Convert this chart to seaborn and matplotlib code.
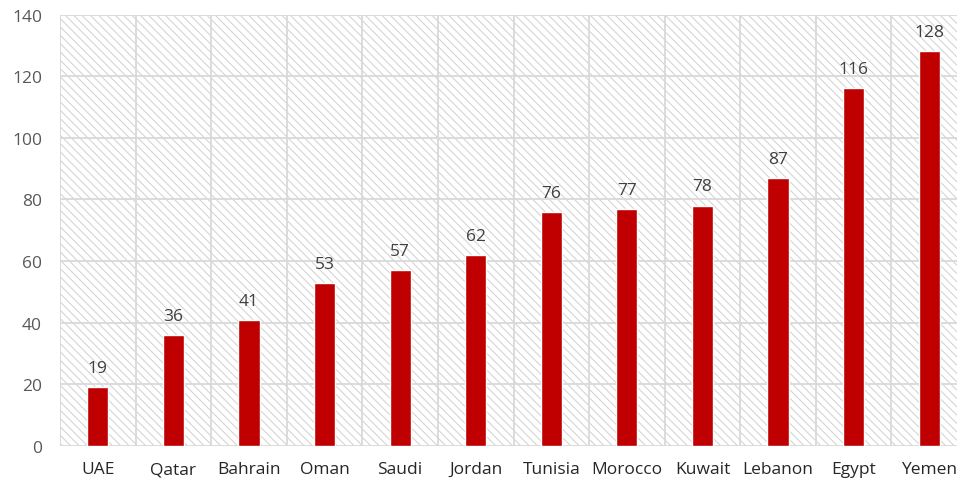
import matplotlib
matplotlib.use("Agg")
import matplotlib.pyplot as plt
import seaborn as sns
import pandas as pd
from matplotlib.patches import Rectangle

countries = ["UAE", "Qatar", "Bahrain", "Oman", "Saudi", "Jordan", "Tunisia",
             "Morocco", "Kuwait", "Lebanon", "Egypt", "Yemen"]
values = [19, 36, 41, 53, 57, 62, 76, 77, 78, 87, 116, 128]
yticks = [0, 20, 40, 60, 80, 100, 120, 140]

df = pd.DataFrame({"country": countries, "value": values})

sns.set_theme(style="white")
plt.rcParams["font.family"] = ["Open Sans", "DejaVu Sans"]
plt.rcParams["hatch.color"] = "#d0d0d0"
plt.rcParams["hatch.linewidth"] = 0.7

fig = plt.figure(figsize=(9.57, 4.85), dpi=100)
ax = fig.add_axes([60 / 957, 38 / 485, 907 / 957, 431.5 / 485])

bg = Rectangle((0, 0), 1, 1, transform=ax.transAxes, facecolor="white",
               edgecolor="#d0d0d0", hatch="\\\\\\\\", lw=0, zorder=0)
ax.add_patch(bg)

sns.barplot(data=df, x="country", y="value", color="#C00000", width=0.28,
            saturation=1, ax=ax, zorder=3)

ax.set_xlim(-0.5, len(countries) - 0.5)
ax.set_ylim(0, 140)
ax.set_yticks(yticks)
ax.set_yticklabels([str(t) for t in yticks])

for y in yticks:
    ax.axhline(y, color="#d9d9d9", lw=1.3, zorder=1)
for i in range(len(countries) + 1):
    ax.axvline(i - 0.5, color="#d9d9d9", lw=1.3, zorder=1)

for i, v in enumerate(values):
    ax.annotate(str(v), (i, v), xytext=(0, 8), textcoords="offset points",
                ha="center", va="bottom", fontsize=12.5, color="#404040")

for s in ax.spines.values():
    s.set_visible(False)
ax.set_xlabel("")
ax.set_ylabel("")
ax.tick_params(axis="y", length=0, pad=13, labelsize=12.5, labelcolor="#595959")
ax.tick_params(axis="x", length=0, pad=11, labelsize=12.5, labelcolor="#262626")

fig.savefig("out.png", dpi=100)
